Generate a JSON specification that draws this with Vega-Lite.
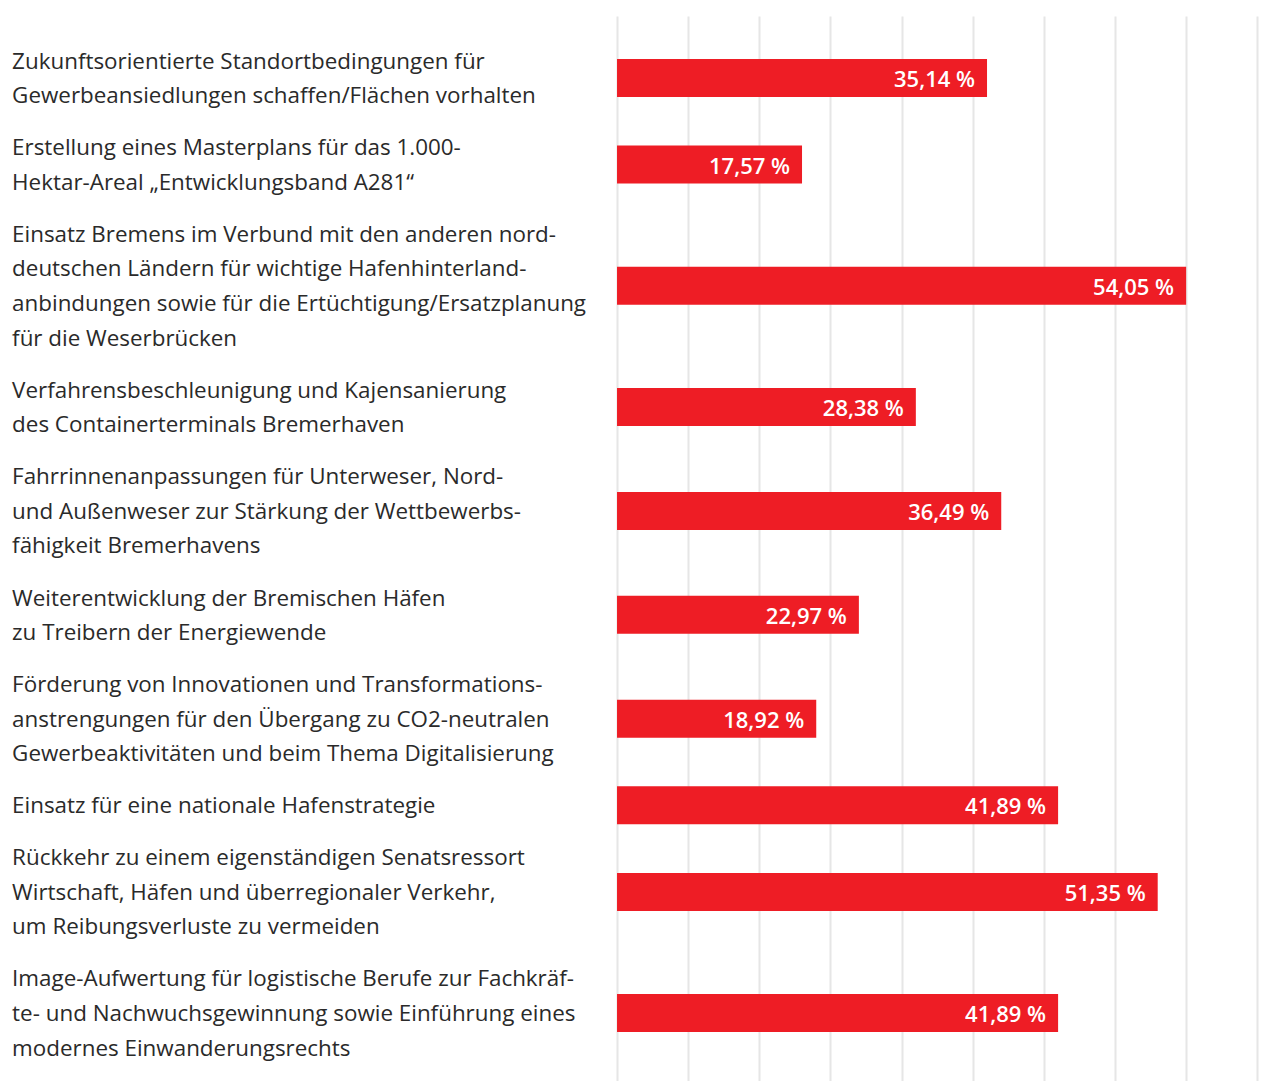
{
  "$schema": "https://vega.github.io/schema/vega-lite/v6.json",
  "width": 1265,
  "height": 1081,
  "autosize": {"type": "fit", "contains": "padding"},
  "padding": {"left": 0, "right": 0, "top": 16, "bottom": 0},
  "background": "white",
  "config": {"view": {"stroke": null}},
  "data": {
    "values": [
      {"label": ["Zukunftsorientierte Standortbedingungen für", "Gewerbeansiedlungen schaffen/Flächen vorhalten"], "value": 35.14},
      {"label": ["Erstellung eines Masterplans für das 1.000-", "Hektar-Areal „Entwicklungsband A281“"], "value": 17.57},
      {"label": ["Einsatz Bremens im Verbund mit den anderen nord-", "deutschen Ländern für wichtige Hafenhinterland-", "anbindungen sowie für die Ertüchtigung/Ersatzplanung", "für die Weserbrücken"], "value": 54.05},
      {"label": ["Verfahrensbeschleunigung und Kajensanierung", "des Containerterminals Bremerhaven"], "value": 28.38},
      {"label": ["Fahrrinnenanpassungen für Unterweser, Nord-", "und Außenweser zur Stärkung der Wettbewerbs-", "fähigkeit Bremerhavens"], "value": 36.49},
      {"label": ["Weiterentwicklung der Bremischen Häfen", "zu Treibern der Energiewende"], "value": 22.97},
      {"label": ["Förderung von Innovationen und Transformations-", "anstrengungen für den Übergang zu CO2-neutralen", "Gewerbeaktivitäten und beim Thema Digitalisierung"], "value": 18.92},
      {"label": ["Einsatz für eine nationale Hafenstrategie"], "value": 41.89},
      {"label": ["Rückkehr zu einem eigenständigen Senatsressort", "Wirtschaft, Häfen und überregionaler Verkehr,", "um Reibungsverluste zu vermeiden"], "value": 51.35},
      {"label": ["Image-Aufwertung für logistische Berufe zur Fachkräf-", "te- und Nachwuchsgewinnung sowie Einführung eines", "modernes Einwanderungsrechts"], "value": 41.89}
    ]
  },
  "transform": [
    {"calculate": "length(datum.label)", "as": "nlines"},
    {"calculate": "datum.nlines + 0.5", "as": "span"},
    {"window": [{"op": "sum", "field": "span", "as": "cum"}], "frame": [null, 0]},
    {"calculate": "datum.cum - datum.span / 2", "as": "pos"},
    {"calculate": "datum.pos - (datum.nlines - 1) / 2", "as": "firstline"},
    {"calculate": "replace(format(datum.value, '.2f'), '.', ',') + ' %'", "as": "valtext"}
  ],
  "layer": [
    {
      "mark": {"type": "bar", "orient": "horizontal", "color": "#ee1d25", "size": 38},
      "encoding": {
        "y": {
          "field": "pos",
          "type": "quantitative",
          "scale": {"domain": [-0.54, 30.21], "reverse": true, "nice": false, "zero": false, "padding": 0},
          "axis": null
        },
        "x": {
          "field": "value",
          "type": "quantitative",
          "scale": {"domain": [-58.6, 61.54], "nice": false, "zero": false, "padding": 0},
          "axis": {
            "values": [0, 6.756, 13.5125, 20.27, 27.025, 33.78, 40.54, 47.29, 54.05, 60.8],
            "grid": true,
            "gridColor": "#e6e6e6",
            "gridWidth": 2,
            "labels": false,
            "ticks": false,
            "domain": false,
            "title": null
          }
        },
        "x2": {"datum": 0}
      }
    },
    {
      "mark": {"type": "text", "align": "right", "baseline": "middle", "dx": -12, "dy": 2, "color": "white", "font": "Open Sans", "fontSize": 22, "fontWeight": 600},
      "encoding": {
        "y": {"field": "pos", "type": "quantitative"},
        "x": {"field": "value", "type": "quantitative"},
        "text": {"field": "valtext", "type": "nominal"}
      }
    },
    {
      "mark": {"type": "text", "align": "left", "baseline": "middle", "dy": 1, "color": "#2a2a2a", "font": "Open Sans", "fontSize": 22.4, "lineHeight": 34.6},
      "encoding": {
        "y": {"field": "firstline", "type": "quantitative"},
        "x": {"datum": -57.45},
        "text": {"field": "label", "type": "nominal"}
      }
    }
  ]
}
